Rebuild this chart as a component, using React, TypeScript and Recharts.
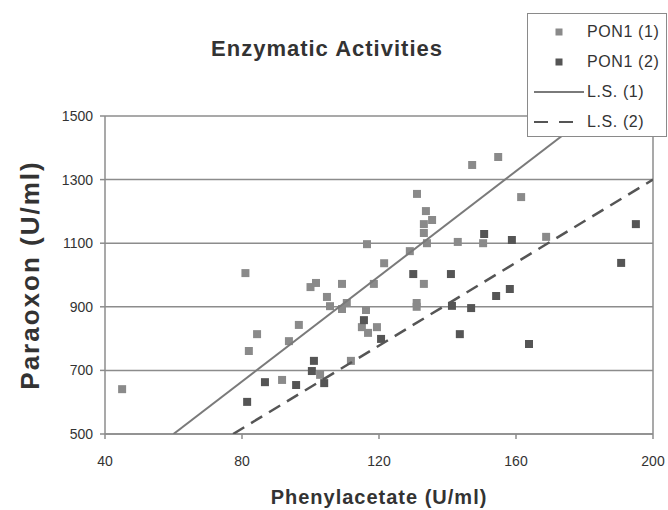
import {
  ScatterChart,
  Scatter,
  XAxis,
  YAxis,
  ZAxis,
  CartesianGrid,
  ReferenceLine,
  Legend,
  Label,
} from "recharts";

const xTicks = [40, 80, 120, 160, 200];
const yTicks = [500, 700, 900, 1100, 1300, 1500];

// PON1 (1) - lighter squares
const pon1One = [
  { x: 45, y: 641 }, { x: 81, y: 1006 }, { x: 82, y: 761 }, { x: 84.4, y: 814 },
  { x: 91.7, y: 670 }, { x: 93.7, y: 792 }, { x: 96.6, y: 843 }, { x: 100, y: 962 },
  { x: 101.6, y: 975 }, { x: 102.8, y: 686 }, { x: 104.8, y: 931 }, { x: 105.7, y: 902 },
  { x: 109.2, y: 972 }, { x: 109.2, y: 893 }, { x: 110.6, y: 912 }, { x: 111.8, y: 730 },
  { x: 115, y: 836 }, { x: 116.2, y: 890 }, { x: 116.5, y: 1097 }, { x: 116.8, y: 818 },
  { x: 118.5, y: 972 }, { x: 119.4, y: 836 }, { x: 121.5, y: 1037 }, { x: 129, y: 1075 },
  { x: 131, y: 900 }, { x: 131, y: 912 }, { x: 131.1, y: 1255 }, { x: 133.1, y: 972 },
  { x: 133.1, y: 1132 }, { x: 133.1, y: 1160 }, { x: 133.7, y: 1201 }, { x: 134, y: 1100 },
  { x: 135.5, y: 1173 }, { x: 143, y: 1104 }, { x: 147.2, y: 1346 }, { x: 150.4, y: 1100 },
  { x: 154.8, y: 1371 }, { x: 161.5, y: 1245 }, { x: 168.8, y: 1120 },
];

// PON1 (2) - darker squares
const pon1Two = [
  { x: 81.5, y: 601 }, { x: 86.7, y: 663 }, { x: 95.8, y: 654 }, { x: 100.4, y: 698 },
  { x: 101, y: 730 }, { x: 104, y: 660 }, { x: 115.6, y: 858 }, { x: 120.6, y: 799 },
  { x: 130, y: 1003 }, { x: 141, y: 1003 }, { x: 141.3, y: 903 }, { x: 143.6, y: 814 },
  { x: 146.9, y: 896 }, { x: 150.7, y: 1129 }, { x: 154.2, y: 934 }, { x: 158.2, y: 956 },
  { x: 158.8, y: 1110 }, { x: 163.8, y: 783 }, { x: 190.7, y: 1038 }, { x: 195, y: 1160 },
];

// least squares lines, end points
const lsOne = [{ x: 60, y: 500 }, { x: 181, y: 1500 }];
const lsTwo = [{ x: 77.4, y: 500 }, { x: 200, y: 1300 }];

const seriesNames = ["PON1 (1)", "PON1 (2)", "L.S. (1)", "L.S. (2)"];

const font = "'Liberation Sans', Arial, sans-serif";
const noMarker = () => <g />;

function LegendBox({ payload }: any) {
  // keep the legend in the reference order
  const rows = [...(payload || [])].sort(
    (a: any, b: any) => seriesNames.indexOf(a.value) - seriesNames.indexOf(b.value)
  );
  return (
    <div
      style={{
        width: 140,
        height: 124,
        boxSizing: "border-box",
        border: "1px solid #8a8a8a",
        background: "#fff",
        paddingTop: 3,
        fontFamily: font,
      }}
    >
      {rows.map((entry: any) => {
        const idx = seriesNames.indexOf(entry.value);
        const isLine = idx >= 2;
        return (
          <div key={entry.value} style={{ display: "flex", alignItems: "center", height: 30 }}>
            <svg width={58} height={30}>
              {isLine ? (
                <line
                  x1={6}
                  x2={56}
                  y1={15}
                  y2={15}
                  stroke={entry.color}
                  strokeWidth={2}
                  strokeDasharray={idx === 3 ? "14 11" : undefined}
                />
              ) : (
                <rect x={27.5} y={11.5} width={7} height={7} fill={entry.color} />
              )}
            </svg>
            <span style={{ fontSize: 16, color: "#333", letterSpacing: 0.6, marginLeft: 1 }}>
              {entry.value}
            </span>
          </div>
        );
      })}
    </div>
  );
}

export default function App() {
  return (
    <div style={{ position: "absolute", left: 0, top: 0, width: 668, height: 510, fontFamily: font, background: "#fff" }}>
      <div
        style={{
          position: "absolute",
          left: 0,
          width: 654,
          top: 36,
          textAlign: "center",
          fontSize: 22,
          fontWeight: "bold",
          color: "#333",
          letterSpacing: 1,
        }}
      >
        Enzymatic Activities
      </div>
      <ScatterChart
        width={668}
        height={510}
        margin={{ top: 116, right: 15, bottom: 46, left: 45 }}
        style={{ fontFamily: font }}
      >
        <CartesianGrid vertical={false} stroke="#8c8c8c" strokeWidth={1.5} />
        <XAxis
          type="number"
          dataKey="x"
          domain={[40, 200]}
          ticks={xTicks}
          height={30}
          stroke="#8c8c8c"
          strokeWidth={1.5}
          tickSize={5}
          tickMargin={17}
          tick={{ fill: "#333", fontSize: 14 }}
          allowDataOverflow
        >
          <Label
            value="Phenylacetate (U/ml)"
            position="bottom"
            offset={26}
            style={{ fontSize: 20, fontWeight: "bold", fill: "#333", letterSpacing: 1 }}
          />
        </XAxis>
        <YAxis
          type="number"
          dataKey="y"
          domain={[500, 1500]}
          ticks={yTicks}
          width={60}
          stroke="#8c8c8c"
          strokeWidth={1.5}
          tickSize={5}
          tickMargin={7}
          tick={{ fill: "#333", fontSize: 14 }}
          allowDataOverflow
        >
          <Label
            value="Paraoxon (U/ml)"
            position="center"
            angle={-90}
            dx={-45}
            style={{ fontSize: 26, fontWeight: "bold", fill: "#333", letterSpacing: 2 }}
          />
        </YAxis>
        <ZAxis range={[45, 45]} />
        <ReferenceLine x={200} stroke="#8c8c8c" strokeWidth={1.5} />
        <Scatter name="PON1 (1)" data={pon1One} fill="#8a8a8a" shape="square" isAnimationActive={false} />
        <Scatter name="PON1 (2)" data={pon1Two} fill="#555555" shape="square" isAnimationActive={false} />
        <Scatter
          name="L.S. (1)"
          data={lsOne}
          fill="#7a7a7a"
          line={{ stroke: "#7a7a7a", strokeWidth: 2 }}
          shape={noMarker}
          isAnimationActive={false}
        />
        <Scatter
          name="L.S. (2)"
          data={lsTwo}
          fill="#555555"
          line={{ stroke: "#555555", strokeWidth: 2.5, strokeDasharray: "13 8" }}
          shape={noMarker}
          isAnimationActive={false}
        />
        <Legend
          layout="horizontal"
          verticalAlign="middle"
          align="center"
          content={<LegendBox />}
          wrapperStyle={{ left: 527, top: 13, width: 140, height: 124 }}
        />
      </ScatterChart>
    </div>
  );
}
